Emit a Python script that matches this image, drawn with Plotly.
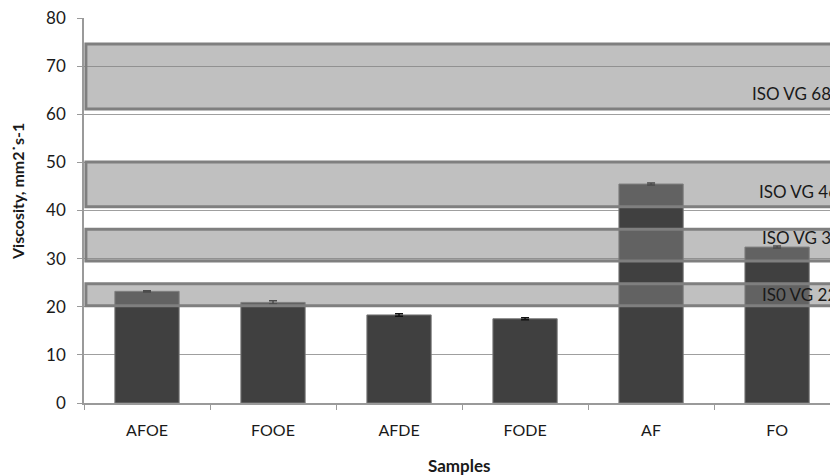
import plotly.graph_objects as go

categories = ["AFOE", "FOOE", "AFDE", "FODE", "AF", "FO"]
viscosity = [23.2, 20.9, 18.3, 17.5, 45.5, 32.4]
errors = [0.15, 0.35, 0.25, 0.2, 0.2, 0.2]

band_names = ["ISO VG 68", "ISO VG 46", "ISO VG 32", "IS0 VG 22"]
band_low = [61.1, 40.8, 29.5, 20.2]
band_high = [74.6, 50.1, 36.1, 24.8]
label_y = [64.4, 43.9, 34.4, 22.5]
label_x = [0.8925, 0.9015, 0.9065, 0.9055]

y_ticks = [0, 10, 20, 30, 40, 50, 60, 70, 80]

FONT = "Lato, Open Sans, sans-serif"

fig = go.Figure()
fig.add_trace(go.Bar(
    x=categories, y=viscosity,
    width=0.51,
    marker=dict(color="#404040", line=dict(color="#7a7a7a", width=1)),
    error_y=dict(type="data", array=errors, visible=True, color="#111111", thickness=1.5, width=4),
    showlegend=False,
))

for lo, hi in zip(band_low, band_high):
    fig.add_shape(type="rect", xref="x", yref="y", x0=-0.485, x1=5.5, y0=lo, y1=hi,
                  fillcolor="rgba(132,132,132,0.51)",
                  line=dict(color="#7f7f7f", width=3), layer="above")

for name, ly, lx in zip(band_names, label_y, label_x):
    fig.add_annotation(text=name, xref="paper", yref="y", x=lx, y=ly,
                       xanchor="left", yanchor="middle", showarrow=False,
                       font=dict(family=FONT, size=17, color="#1a1a1a"))

fig.add_annotation(text="<b>Samples</b>", xref="paper", yref="paper", x=0.504, y=-0.1636,
                   xanchor="center", yanchor="middle", showarrow=False,
                   font=dict(family=FONT, size=17, color="#1a1a1a"))

fig.add_annotation(text="<b>Viscosity, mm2˙s-1</b>", xref="paper", yref="paper", x=-0.0898, y=0.548,
                   xanchor="center", yanchor="middle", showarrow=False, textangle=-90,
                   font=dict(family=FONT, size=16, color="#1a1a1a"))

fig.update_layout(
    width=830, height=475,
    margin=dict(l=84, r=0, t=18, b=72),
    plot_bgcolor="white", paper_bgcolor="white",
    font=dict(family=FONT, size=16, color="#1a1a1a"),
    xaxis=dict(range=[-0.5, 5.42], showgrid=False, showline=True, linecolor="#9a9a9a", linewidth=1.5,
               ticks="outside", tickson="boundaries", ticklen=5, tickcolor="#9a9a9a",
               tickfont=dict(size=16), ticklabelstandoff=12, zeroline=False, fixedrange=True),
    yaxis=dict(range=[0, 80], tickvals=y_ticks, showgrid=True, gridcolor="#9f9f9f", gridwidth=1,
               showline=True, linecolor="#9a9a9a", linewidth=1.5, ticks="outside", ticklen=5,
               tickcolor="#9a9a9a", tickfont=dict(size=17), ticklabelstandoff=8, zeroline=False),
)

fig.write_html("out.html", config={"displayModeBar": False},
               post_script="document.body.style.margin='0';document.body.style.overflow='hidden';")
